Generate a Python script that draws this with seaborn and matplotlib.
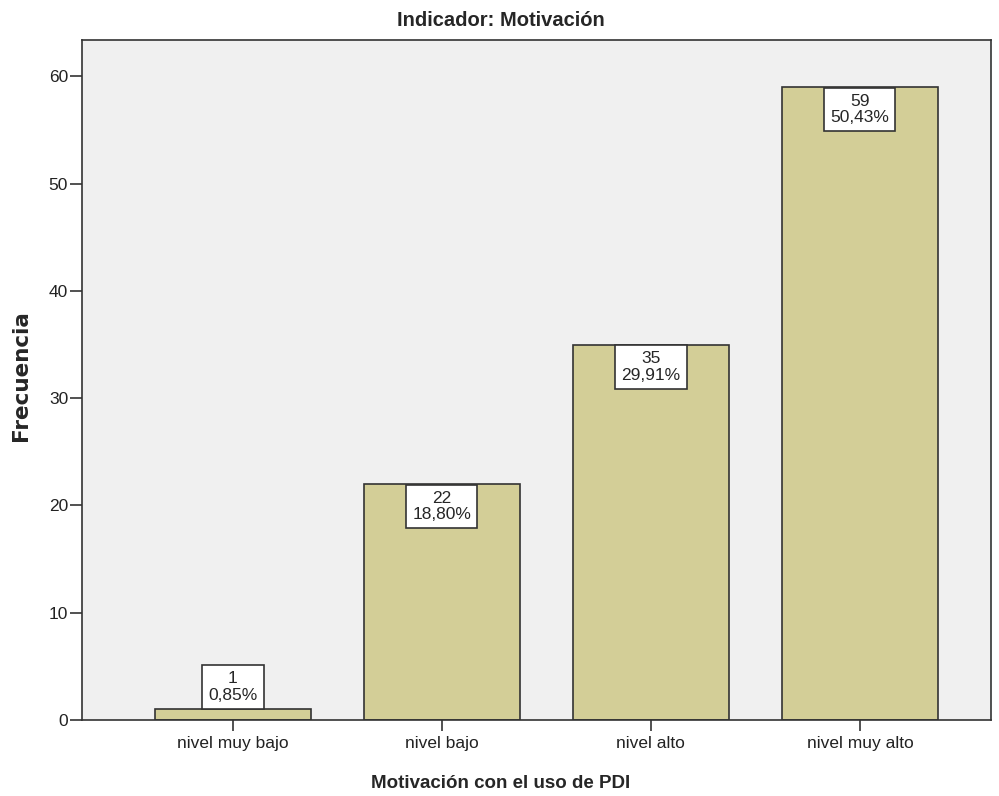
import pandas as pd
import seaborn as sns
import matplotlib.pyplot as plt

categorias = ['nivel muy bajo', 'nivel bajo', 'nivel alto', 'nivel muy alto']
frecuencias = [1, 22, 35, 59]
porcentajes = ['0,85%', '18,80%', '29,91%', '50,43%']

df = pd.DataFrame({'nivel': categorias, 'frecuencia': frecuencias})

sns.set_style('ticks')
plt.rcParams['font.family'] = ['Liberation Sans', 'DejaVu Sans']

fig = plt.figure(figsize=(9.99, 7.96), dpi=100)
ax = fig.add_axes([82/999, 1 - 720/796, (991-82)/999, (720-40)/796])
ax.set_facecolor('#F0F0F0')

sns.barplot(data=df, x='nivel', y='frecuencia', color='#D3CE97', width=0.75,
            edgecolor='#333333', linewidth=1.2, saturation=1, ax=ax)

ax.set_xlim(-0.722, 3.627)
ax.set_ylim(0, 63.4)
ax.set_yticks([0, 10, 20, 30, 40, 50, 60])

pad = 0.35
fs = 12.5
for i, (f, p) in enumerate(zip(frecuencias, porcentajes)):
    caja = dict(boxstyle=f'square,pad={pad}', fc='white', ec='#333333', lw=1.2)
    if f < 5:
        ax.annotate(f'{f}\n{p}', (i, f), xytext=(0, pad * fs + 0.5), textcoords='offset points',
                    ha='center', va='bottom', fontsize=fs, linespacing=1.1, bbox=caja)
    else:
        ax.annotate(f'{f}\n{p}', (i, f), xytext=(0, -pad * fs - 0.5), textcoords='offset points',
                    ha='center', va='top', fontsize=fs, linespacing=1.1, bbox=caja)

for s in ax.spines.values():
    s.set_color('#333333')
    s.set_linewidth(1.2)
ax.tick_params(axis='both', width=1.2, color='#333333', labelsize=12.5, labelcolor='#222222')
ax.tick_params(axis='x', length=8, pad=3.5)
ax.tick_params(axis='y', length=9, pad=1)

ax.set_title('Indicador: Motivación', fontsize=14.5, fontweight='bold',
             x=(501-82)/909, y=(720-20)/680, va='center', pad=0)
ax.set_xlabel('Motivación con el uso de PDI', fontsize=13.5, fontweight='bold', va='center')
ax.xaxis.set_label_coords((501-82)/909, (720-783)/680)
ax.set_ylabel('Frecuencia', fontsize=15.5, fontweight='bold', family='DejaVu Sans', va='center')
ax.yaxis.set_label_coords((21-82)/909, (720-376)/680)

fig.savefig('out.png', dpi=100)
